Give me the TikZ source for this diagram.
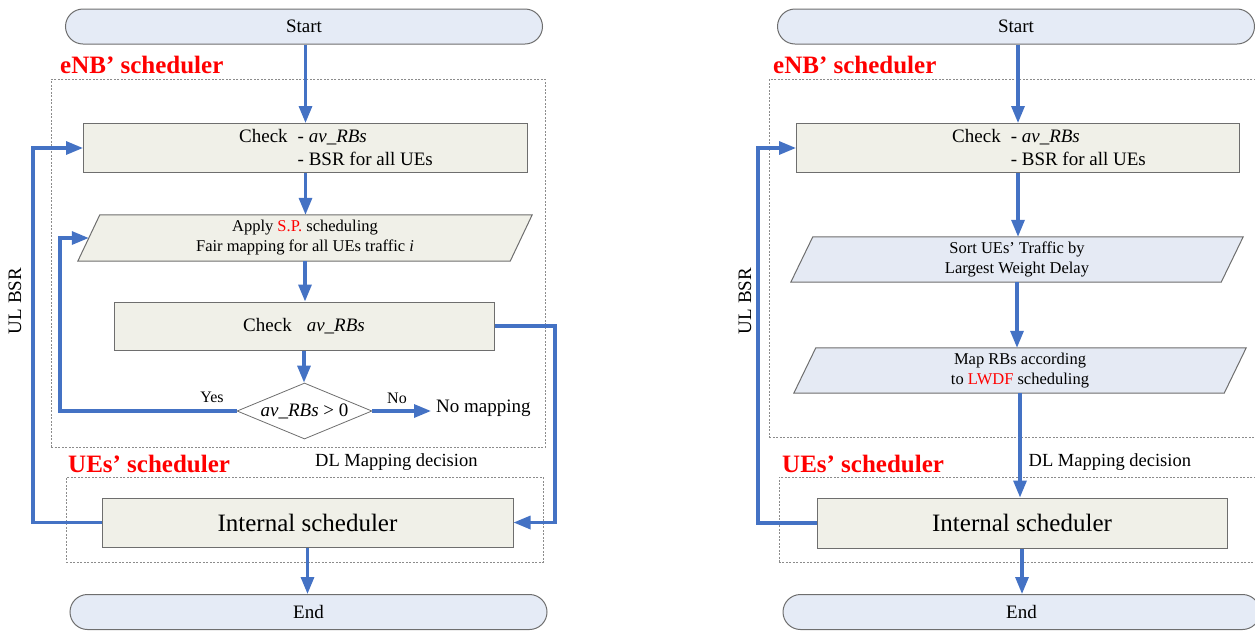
\documentclass[tikz,border=0pt]{standalone}
\usepackage{fontspec}
\setmainfont{Liberation Serif}
\usetikzlibrary{arrows.meta,shapes.geometric,calc,backgrounds}
\definecolor{flowblue}{HTML}{4472C4}
\definecolor{boxfill}{HTML}{F0F0E8}
\definecolor{termfill}{HTML}{E5EBF6}
\definecolor{parafill}{HTML}{E5EAF4}
\definecolor{edgegray}{HTML}{6E6E6E}
\definecolor{zonegray}{HTML}{8C8C8C}
\newcommand{\fsz}[2]{\fontsize{#1pt}{#2pt}\selectfont}
\begin{document}
\begin{tikzpicture}[x=1pt,y=-1pt,
  term/.style={draw=edgegray,line width=1pt,fill=termfill,rounded corners=17.5pt,
    minimum width=477pt,minimum height=35pt,inner sep=0pt,font=\fsz{19}{23}},
  procbox/.style={draw=edgegray,line width=1pt,fill=boxfill,inner sep=0pt},
  paranode/.style={inner sep=0pt,minimum height=46pt,align=center,font=\fsz{16.5}{20}},
  zonebox/.style={draw=zonegray,line width=0.8pt,dash pattern=on 2pt off 1.5pt,
    inner sep=0pt,anchor=north west},
  zonetitle/.style={text=red,font=\bfseries\fsz{25}{30},anchor=base west,inner sep=0pt},
  flow/.style={draw=flowblue,line width=3.2pt,-{Triangle[length=17pt,width=13pt]}},
  txt/.style={inner sep=0pt},
  decision/.style={draw=edgegray,line width=0.8pt,fill=white,shape=diamond,aspect=2.4,
    minimum width=135pt,minimum height=56pt,inner sep=0pt,font=\fsz{19}{23}}]

\useasboundingbox (0,0) rectangle (1255,633);
\clip (0,0) rectangle (1255,633);

% ---------------- left flow: strict-priority mapping ----------------
\node[term] (s1) at (304,26.5) {Start};
\node[zonetitle] (e1t) at (60,73) {eNB’ scheduler};
\node[zonebox,minimum width=494pt,minimum height=368pt] (z1) at (51,79) {};

\node[procbox,minimum width=444pt,minimum height=49pt,anchor=north west] (c1) at (83,123) {};
\node[txt,anchor=base west,font=\fsz{19}{23}] (c1t) at (239,142)
  {\begin{tabular}[t]{@{}r@{\hspace{10pt}}l@{}}Check & - \textit{av\_RBs}\\ & - BSR for all UEs\end{tabular}};

\node[paranode,minimum width=454pt] (p1) at (305,238)
  {Apply \textcolor{red}{S.P.} scheduling\\Fair mapping for all UEs traffic \textit{i}};
\begin{scope}[on background layer]
  \draw[draw=edgegray,line width=1pt,fill=boxfill]
    (p1.south west) -- ($(p1.north west)+(22,0)$) -- (p1.north east)
    -- ($(p1.south east)+(-22,0)$) -- cycle;
\end{scope}

\node[procbox,minimum width=380pt,minimum height=48pt,font=\fsz{19}{23}] (c2) at (304,326)
  {Check\hspace{15pt}\textit{av\_RBs}};
\node[decision] (d1) at (304.5,411) {\textit{av\_RBs} > 0};
\node[txt,font=\fsz{16}{19}] (yes1) at (212,397) {Yes};
\node[txt,font=\fsz{16}{19}] (no1) at (397,398) {No};
\node[txt,anchor=base west,font=\fsz{19}{23}] (nm1) at (436,412) {No mapping};

\node[txt,anchor=base west,font=\fsz{18.5}{22}] (dl1) at (315,466) {DL Mapping decision};
\node[zonetitle] (u1t) at (68,472) {UEs’ scheduler};
\node[zonebox,minimum width=477pt,minimum height=85pt] (z2) at (66,477) {};
\node[procbox,minimum width=411pt,minimum height=49pt,font=\fsz{25}{30}] (i1) at (307.5,522.5)
  {Internal scheduler};
\node[term] (n1) at (308.5,612) {End};
\node[txt,rotate=90,font=\fsz{19}{23}] (ul1) at (15,301) {UL BSR};

\coordinate (ulL) at (33,300);
\coordinate (yesL) at (60,300);
\coordinate (noR) at (555,420);

\draw[flow] (c1.north |- s1.south) -- (c1.north);
\draw[flow] (c1.south) -- (c1.south |- p1.north);
\draw[flow] (p1.south) -- (p1.south |- c2.north);
\draw[flow] (c2.south) -- (c2.south |- d1.north);
\draw[flow] (d1.east) -- ($(d1.east -| nm1.west)+(-5,0)$);
\draw[flow] (d1.west) -| (yesL) |- ($(p1.west)+(11,0)$);
\draw[flow] (c2.east) -| (noR) |- (i1.east);
\draw[flow] (i1.west) -| (ulL) |- (c1.west);
\draw[flow] (i1.south) -- (i1.south |- n1.north);

% ---------------- right flow: LWDF mapping ----------------
\node[term] (s2) at (1016,26.5) {Start};
\node[zonetitle] (e2t) at (773,73) {eNB’ scheduler};
\node[zonebox,minimum width=500pt,minimum height=358pt] (z3) at (769,79) {};

\node[procbox,minimum width=443pt,minimum height=49pt,anchor=north west] (c3) at (796,123) {};
\node[txt,anchor=base west,font=\fsz{19}{23}] (c3t) at (952,142)
  {\begin{tabular}[t]{@{}r@{\hspace{10pt}}l@{}}Check & - \textit{av\_RBs}\\ & - BSR for all UEs\end{tabular}};

\node[paranode,minimum width=452pt,minimum height=45pt] (p2) at (1017,259.5)
  {Sort UEs’ Traffic by\\Largest Weight Delay};
\node[paranode,minimum width=452pt,minimum height=45pt] (p3) at (1020,370.5)
  {Map RBs according\\to \textcolor{red}{LWDF} scheduling};
\begin{scope}[on background layer]
  \foreach \p in {p2,p3}{
    \draw[draw=edgegray,line width=1pt,fill=parafill]
      (\p.south west) -- ($(\p.north west)+(22,0)$) -- (\p.north east)
      -- ($(\p.south east)+(-22,0)$) -- cycle;
  }
\end{scope}

\node[txt,anchor=base west,font=\fsz{18.5}{22}] (dl2) at (1028.5,466) {DL Mapping decision};
\node[zonetitle] (u2t) at (782,472) {UEs’ scheduler};
\node[zonebox,minimum width=490pt,minimum height=85pt] (z4) at (778.5,477) {};
\node[procbox,minimum width=410pt,minimum height=50pt,font=\fsz{25}{30}] (i2) at (1022,523)
  {Internal scheduler};
\node[term] (n2) at (1021.5,612) {End};
\node[txt,rotate=90,font=\fsz{19}{23}] (ul2) at (745,301) {UL BSR};

\coordinate (ulR) at (758,300);

\draw[flow] (c3.north |- s2.south) -- (c3.north);
\draw[flow] (c3.south) -- (c3.south |- p2.north);
\draw[flow] (p2.south) -- (p2.south |- p3.north);
\draw[flow] (p3.south) -- (p3.south |- i2.north);
\draw[flow] (i2.west) -| (ulR) |- (c3.west);
\draw[flow] (i2.south) -- (i2.south |- n2.north);
\end{tikzpicture}
\end{document}
